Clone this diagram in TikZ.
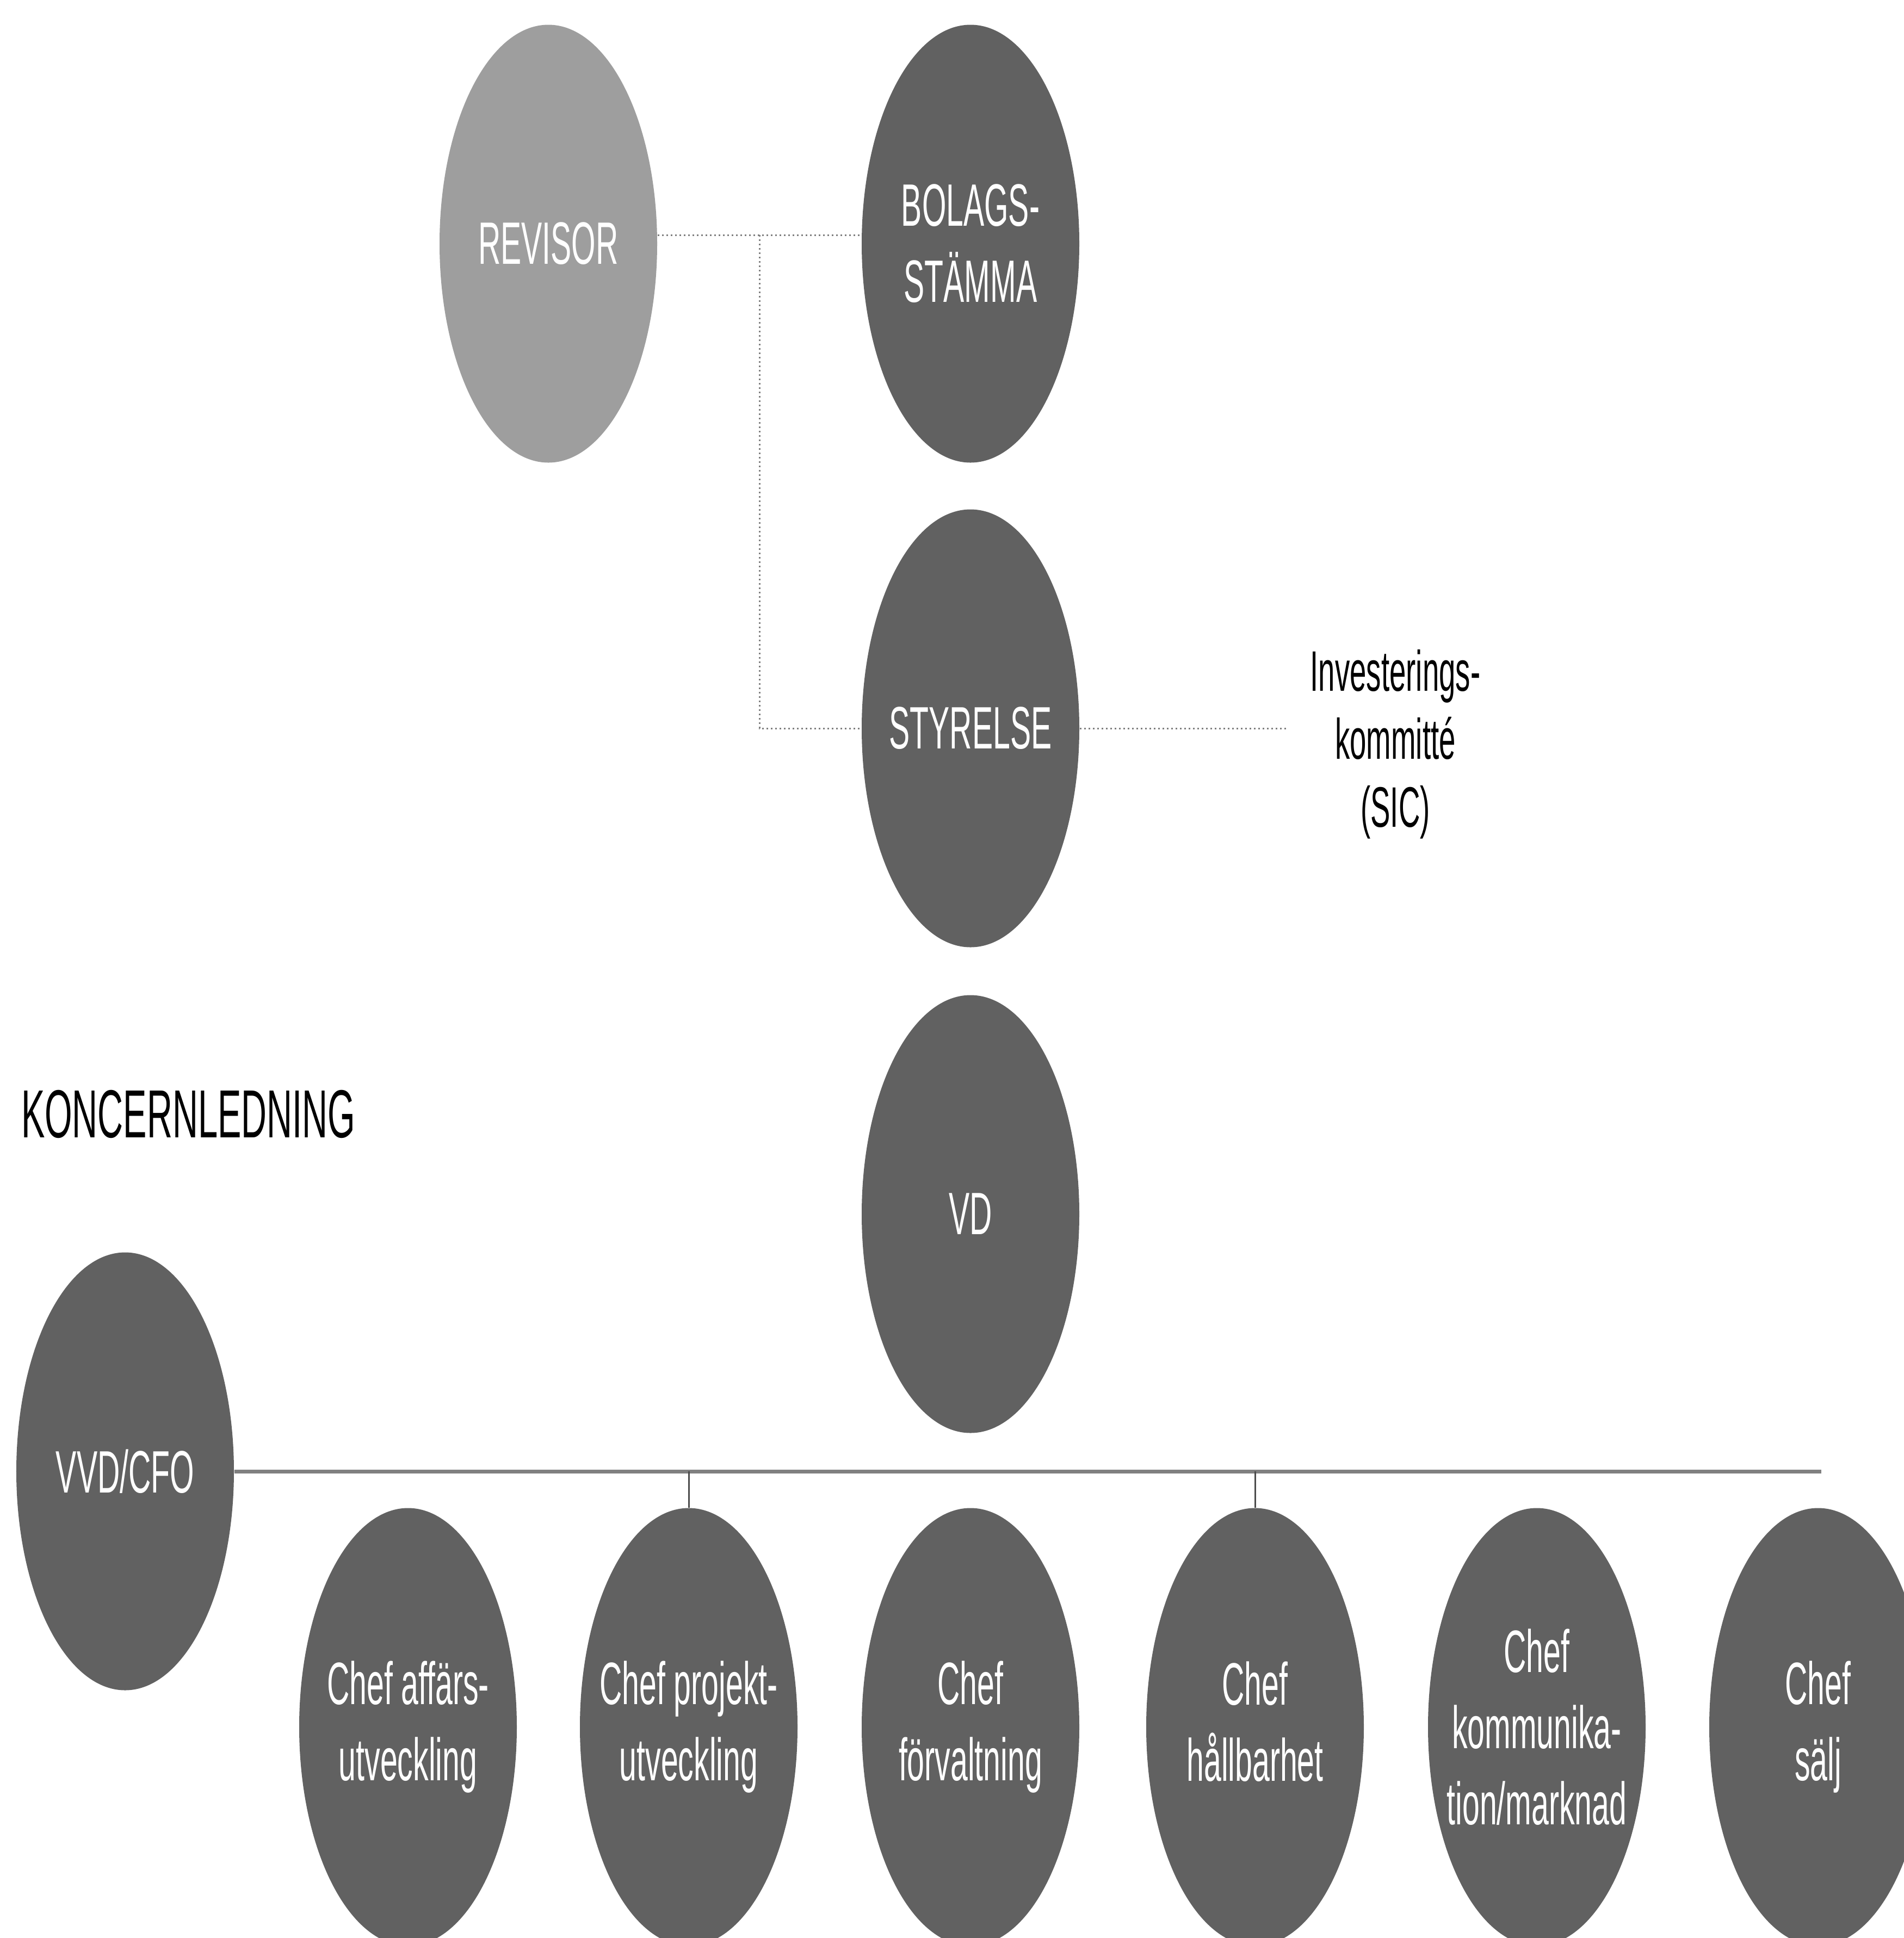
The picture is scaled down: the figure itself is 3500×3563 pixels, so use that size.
\documentclass[tikz,border=0pt]{standalone}
\usepackage{fontspec}
\setmainfont[FakeStretch=0.52]{Liberation Sans}
\usetikzlibrary{shapes.geometric,calc}
\definecolor{ovalgray}{gray}{0.38}
\definecolor{revgray}{gray}{0.62}
\definecolor{linegray}{gray}{0.5}
\tikzset{
  oval/.style={ellipse, fill=ovalgray, draw=none, minimum width=80pt, minimum height=161pt, inner sep=0pt},
  ovaltext/.style={text=white, align=center, font=\fontsize{22}{28}\selectfont, inner sep=0pt},
  plaintext/.style={text=black, align=center, font=\fontsize{21}{25}\selectfont, inner sep=0pt},
  dotline/.style={draw=linegray, line width=0.6pt, densely dotted},
  mainline/.style={draw=linegray, line width=1.4pt},
  dropline/.style={draw=black!70, line width=0.6pt},
}
\begin{document}
\begin{tikzpicture}[x=0.2pt, y=-0.2pt]
\clip (0,0) rectangle (3500,3563);
\useasboundingbox (0,0) rectangle (3500,3563);
\fill[white] (0,0) rectangle (3500,3563);

% top level
\node[oval, fill=revgray] (rev) at (1008,448) {};
\node[ovaltext] (revt) at (rev.center) {REVISOR};
\node[oval] (bol) at (1784,448) {};
\node[ovaltext] (bolt) at (bol.center) {BOLAGS-\\STÄMMA};
\node[oval] (sty) at (1784,1339) {};
\node[ovaltext] (styt) at (sty.center) {STYRELSE};
\node[oval] (vd) at (1784,2232) {};
\node[ovaltext] (vdt) at (vd.center) {VD};

\node[plaintext] (sic) at (2565,1368) {Investerings-\\kommitté\\(SIC)};

\node[anchor=base west, inner sep=0pt, font=\fontsize{25}{30}\selectfont] (kl) at (38,2091) {KONCERNLEDNING};

\node[oval] (vvd) at (230,2705) {};
\node[ovaltext] (vvdt) at (vvd.center) {VVD/CFO};

% bottom row
\node[oval] (c1) at (750,3175) {};
\node[ovaltext] (c1t) at (c1.center) {Chef affärs-\\utveckling};
\node[oval] (c2) at (1266,3175) {};
\node[ovaltext] (c2t) at (c2.center) {Chef projekt-\\utveckling};
\node[oval] (c3) at (1784,3175) {};
\node[ovaltext] (c3t) at (c3.center) {Chef\\förvaltning};
\node[oval] (c4) at (2307,3175) {};
\node[ovaltext] (c4t) at ($(c4.center)+(0,-10)$) {Chef\\hållbarhet};
\node[oval] (c5) at (2825,3175) {};
\node[ovaltext] (c5t) at (c5.center) {Chef\\kommunika-\\tion/marknad};
\node[oval] (c6) at (3342,3175) {};
\node[ovaltext] (c6t) at (c6.center) {Chef\\sälj};

% connectors
\coordinate (jt) at ($(rev.east)!0.5!(bol.west) + (0,-16)$);
\draw[dotline] (rev.east |- jt) -- (bol.west |- jt);
\draw[dotline] (jt) |- (sty.west);
\coordinate (sicin) at ($(sty.east -| sic.west) + (-40,0)$);
\draw[dotline] (sty.east) -- (sicin);
\coordinate (hend) at (3348,2705);
\draw[mainline] (vvd.east) -- (hend);
\draw[dropline] (c2.north |- vvd.east) -- (c2.north);
\draw[dropline] (c4.north |- vvd.east) -- (c4.north);
\end{tikzpicture}
\end{document}
